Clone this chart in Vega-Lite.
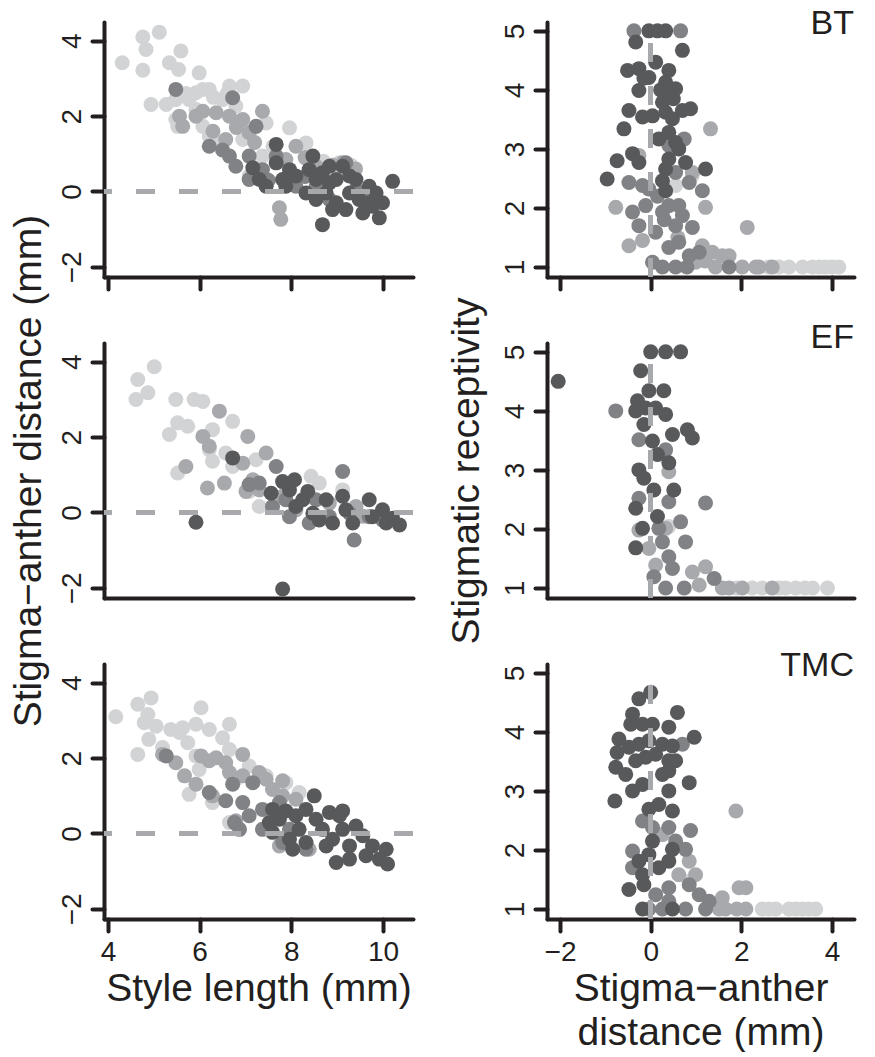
{
"$schema": "https://vega.github.io/schema/vega-lite/v6.json",
"background": "white",
"padding": {"left": 8, "top": 7, "right": 5, "bottom": 0},
"config": {
 "view": {"stroke": null},
 "font": "Liberation Sans",
 "axis": {"domainColor": "#231f20", "domainWidth": 4, "domainCap": "round", "tickColor": "#231f20", "tickWidth": 4, "tickCap": "round", "tickSize": 12, "labelFont": "Liberation Sans", "labelFontSize": 28, "labelColor": "#231f20", "labelPadding": 7, "titleFont": "Liberation Sans", "titleFontSize": 39, "titleFontWeight": "normal", "titleColor": "#231f20", "grid": false, "labelFlush": false, "labelOverlap": false, "titlePadding": 3, "format": "d"},
 "axisY": {"labelPadding": 12, "labelAngle": 270, "labelAlign": "center", "labelBaseline": "alphabetic", "titlePadding": 10},
 "title": {"font": "Liberation Sans", "fontSize": 34, "fontWeight": "normal", "color": "#231f20", "anchor": "end", "frame": "group", "offset": -21, "baseline": "alphabetic"}
},
"datasets": {
"left": [
{"site":"BT","stage":1,"style":4.31,"sad":3.42},{"site":"BT","stage":1,"style":4.76,"sad":4.1},{"site":"BT","stage":1,"style":5.12,"sad":4.23},{"site":"BT","stage":1,"style":4.83,"sad":3.77},{"site":"BT","stage":1,"style":4.76,"sad":3.22},{"site":"BT","stage":1,"style":5.59,"sad":3.73},{"site":"BT","stage":1,"style":5.34,"sad":3.42},{"site":"BT","stage":1,"style":5.54,"sad":3.24},{"site":"BT","stage":1,"style":4.94,"sad":2.31},{"site":"BT","stage":1,"style":5.27,"sad":2.31},{"site":"BT","stage":1,"style":5.48,"sad":2.44},{"site":"BT","stage":1,"style":5.99,"sad":3.15},{"site":"BT","stage":1,"style":6.07,"sad":2.71},{"site":"BT","stage":1,"style":6.21,"sad":2.71},{"site":"BT","stage":1,"style":5.92,"sad":2.62},{"site":"BT","stage":1,"style":6.65,"sad":2.8},{"site":"BT","stage":1,"style":6.94,"sad":2.8},{"site":"BT","stage":1,"style":6.5,"sad":2.44},{"site":"BT","stage":1,"style":6.79,"sad":2.27},{"site":"BT","stage":1,"style":5.48,"sad":1.91},{"site":"BT","stage":1,"style":5.52,"sad":1.73},{"site":"BT","stage":1,"style":5.92,"sad":2.18},{"site":"BT","stage":1,"style":6.07,"sad":1.73},{"site":"BT","stage":1,"style":6.21,"sad":1.47},{"site":"BT","stage":1,"style":6.94,"sad":1.38},{"site":"BT","stage":1,"style":7.96,"sad":1.69},{"site":"BT","stage":1,"style":8.32,"sad":1.29},{"site":"BT","stage":1,"style":7.08,"sad":0.41},{"site":"BT","stage":1,"style":7.37,"sad":0.94},{"site":"BT","stage":1,"style":7.45,"sad":1.82},{"site":"BT","stage":1,"style":9.05,"sad":0.76},{"site":"BT","stage":1,"style":5.77,"sad":2.44},{"site":"BT","stage":1,"style":5.7,"sad":2.6},{"site":"BT","stage":1,"style":6.3,"sad":2.5},{"site":"BT","stage":1,"style":6.6,"sad":2.6},{"site":"BT","stage":1,"style":7.1,"sad":1.6},{"site":"BT","stage":1,"style":6.4,"sad":1.3},{"site":"BT","stage":1,"style":7.6,"sad":1.2},{"site":"BT","stage":1,"style":8.7,"sad":0.8},{"site":"BT","stage":1,"style":9.3,"sad":0.7},
{"site":"BT","stage":2,"style":5.56,"sad":2.0},{"site":"BT","stage":2,"style":5.63,"sad":1.73},{"site":"BT","stage":2,"style":5.92,"sad":2.0},{"site":"BT","stage":2,"style":6.07,"sad":2.13},{"site":"BT","stage":2,"style":6.36,"sad":2.09},{"site":"BT","stage":2,"style":6.65,"sad":2.0},{"site":"BT","stage":2,"style":6.94,"sad":1.91},{"site":"BT","stage":2,"style":7.37,"sad":2.13},{"site":"BT","stage":2,"style":6.29,"sad":1.6},{"site":"BT","stage":2,"style":6.57,"sad":1.38},{"site":"BT","stage":2,"style":7.08,"sad":1.56},{"site":"BT","stage":2,"style":7.74,"sad":-0.43},{"site":"BT","stage":2,"style":7.77,"sad":-0.74},{"site":"BT","stage":2,"style":7.88,"sad":0.85},{"site":"BT","stage":2,"style":8.1,"sad":1.2},{"site":"BT","stage":2,"style":8.54,"sad":0.67},{"site":"BT","stage":2,"style":9.12,"sad":0.76},{"site":"BT","stage":2,"style":6.8,"sad":1.7},{"site":"BT","stage":2,"style":7.2,"sad":1.3},{"site":"BT","stage":2,"style":8.3,"sad":0.9},{"site":"BT","stage":2,"style":9.4,"sad":0.6},{"site":"BT","stage":2,"style":8.9,"sad":0.7},
{"site":"BT","stage":3,"style":5.48,"sad":2.71},{"site":"BT","stage":3,"style":6.72,"sad":2.49},{"site":"BT","stage":3,"style":7.23,"sad":1.73},{"site":"BT","stage":3,"style":6.21,"sad":1.2},{"site":"BT","stage":3,"style":6.65,"sad":0.94},{"site":"BT","stage":3,"style":6.79,"sad":0.67},{"site":"BT","stage":3,"style":7.08,"sad":0.94},{"site":"BT","stage":3,"style":7.23,"sad":0.5},{"site":"BT","stage":3,"style":7.67,"sad":0.94},{"site":"BT","stage":3,"style":7.08,"sad":0.32},{"site":"BT","stage":3,"style":7.37,"sad":0.58},{"site":"BT","stage":3,"style":8.1,"sad":0.14},{"site":"BT","stage":3,"style":8.54,"sad":0.14},{"site":"BT","stage":3,"style":8.83,"sad":-0.21},{"site":"BT","stage":3,"style":9.19,"sad":0.76},{"site":"BT","stage":3,"style":9.41,"sad":0.05},{"site":"BT","stage":3,"style":6.5,"sad":1.1},{"site":"BT","stage":3,"style":7.5,"sad":0.3},{"site":"BT","stage":3,"style":8.3,"sad":0.4},{"site":"BT","stage":3,"style":9.6,"sad":-0.2},
{"site":"BT","stage":4,"style":7.67,"sad":1.25},{"site":"BT","stage":4,"style":7.16,"sad":0.63},{"site":"BT","stage":4,"style":7.3,"sad":0.32},{"site":"BT","stage":4,"style":7.67,"sad":0.76},{"site":"BT","stage":4,"style":7.45,"sad":0.14},{"site":"BT","stage":4,"style":7.81,"sad":0.32},{"site":"BT","stage":4,"style":7.96,"sad":0.58},{"site":"BT","stage":4,"style":7.88,"sad":0.14},{"site":"BT","stage":4,"style":8.1,"sad":0.41},{"site":"BT","stage":4,"style":8.47,"sad":0.94},{"site":"BT","stage":4,"style":8.39,"sad":0.58},{"site":"BT","stage":4,"style":8.54,"sad":0.32},{"site":"BT","stage":4,"style":8.68,"sad":0.5},{"site":"BT","stage":4,"style":8.83,"sad":0.67},{"site":"BT","stage":4,"style":8.98,"sad":0.32},{"site":"BT","stage":4,"style":9.12,"sad":0.67},{"site":"BT","stage":4,"style":9.27,"sad":0.41},{"site":"BT","stage":4,"style":8.32,"sad":-0.04},{"site":"BT","stage":4,"style":8.54,"sad":-0.21},{"site":"BT","stage":4,"style":8.76,"sad":-0.04},{"site":"BT","stage":4,"style":8.98,"sad":-0.3},{"site":"BT","stage":4,"style":9.19,"sad":-0.48},{"site":"BT","stage":4,"style":9.41,"sad":0.32},{"site":"BT","stage":4,"style":9.48,"sad":-0.21},{"site":"BT","stage":4,"style":9.56,"sad":-0.57},{"site":"BT","stage":4,"style":9.7,"sad":-0.3},{"site":"BT","stage":4,"style":9.92,"sad":-0.7},{"site":"BT","stage":4,"style":9.99,"sad":-0.3},{"site":"BT","stage":4,"style":9.85,"sad":-0.04},{"site":"BT","stage":4,"style":10.21,"sad":0.27},{"site":"BT","stage":4,"style":8.68,"sad":-0.88},{"site":"BT","stage":4,"style":9.77,"sad":-0.39},{"site":"BT","stage":4,"style":9.27,"sad":-0.04},{"site":"BT","stage":4,"style":8.83,"sad":0.23},{"site":"BT","stage":4,"style":9.7,"sad":0.14},{"site":"BT","stage":4,"style":8.9,"sad":-0.48},
{"site":"EF","stage":1,"style":4.61,"sad":3.0},{"site":"EF","stage":1,"style":4.65,"sad":3.53},{"site":"EF","stage":1,"style":4.87,"sad":3.18},{"site":"EF","stage":1,"style":5.01,"sad":3.87},{"site":"EF","stage":1,"style":5.48,"sad":3.0},{"site":"EF","stage":1,"style":5.88,"sad":3.0},{"site":"EF","stage":1,"style":6.07,"sad":2.95},{"site":"EF","stage":1,"style":5.34,"sad":2.07},{"site":"EF","stage":1,"style":5.52,"sad":2.38},{"site":"EF","stage":1,"style":5.74,"sad":2.29},{"site":"EF","stage":1,"style":5.52,"sad":1.05},{"site":"EF","stage":1,"style":6.72,"sad":2.42},{"site":"EF","stage":1,"style":6.28,"sad":2.2},{"site":"EF","stage":1,"style":6.21,"sad":1.67},{"site":"EF","stage":1,"style":6.28,"sad":1.36},{"site":"EF","stage":1,"style":6.57,"sad":1.58},{"site":"EF","stage":1,"style":6.72,"sad":1.22},{"site":"EF","stage":1,"style":7.23,"sad":1.4},{"site":"EF","stage":1,"style":7.3,"sad":0.16},{"site":"EF","stage":1,"style":7.08,"sad":0.56},{"site":"EF","stage":1,"style":8.61,"sad":0.78},{"site":"EF","stage":1,"style":8.43,"sad":0.96},{"site":"EF","stage":1,"style":9.12,"sad":0.6},
{"site":"EF","stage":2,"style":6.43,"sad":2.69},{"site":"EF","stage":2,"style":7.05,"sad":2.02},{"site":"EF","stage":2,"style":6.07,"sad":2.02},{"site":"EF","stage":2,"style":6.21,"sad":1.76},{"site":"EF","stage":2,"style":5.7,"sad":1.22},{"site":"EF","stage":2,"style":6.17,"sad":0.65},{"site":"EF","stage":2,"style":6.54,"sad":0.78},{"site":"EF","stage":2,"style":7.45,"sad":1.58},{"site":"EF","stage":2,"style":6.94,"sad":1.31},{"site":"EF","stage":2,"style":7.16,"sad":0.87},{"site":"EF","stage":2,"style":7.3,"sad":0.6},{"site":"EF","stage":2,"style":7.01,"sad":0.56},{"site":"EF","stage":2,"style":7.81,"sad":0.43},{"site":"EF","stage":2,"style":8.1,"sad":0.07},{"site":"EF","stage":2,"style":8.83,"sad":0.25},{"site":"EF","stage":2,"style":9.41,"sad":0.16},{"site":"EF","stage":2,"style":9.56,"sad":-0.1},
{"site":"EF","stage":3,"style":7.08,"sad":0.74},{"site":"EF","stage":3,"style":7.3,"sad":0.78},{"site":"EF","stage":3,"style":7.67,"sad":1.22},{"site":"EF","stage":3,"style":7.88,"sad":0.34},{"site":"EF","stage":3,"style":7.96,"sad":-0.11},{"site":"EF","stage":3,"style":8.39,"sad":-0.28},{"site":"EF","stage":3,"style":8.54,"sad":0.34},{"site":"EF","stage":3,"style":9.12,"sad":1.09},{"site":"EF","stage":3,"style":8.83,"sad":-0.11},{"site":"EF","stage":3,"style":9.27,"sad":-0.02},{"site":"EF","stage":3,"style":9.7,"sad":-0.11},{"site":"EF","stage":3,"style":9.99,"sad":-0.2},{"site":"EF","stage":3,"style":7.59,"sad":0.16},{"site":"EF","stage":3,"style":9.37,"sad":-0.73},
{"site":"EF","stage":4,"style":5.92,"sad":-0.26},{"site":"EF","stage":4,"style":7.81,"sad":-2.03},{"site":"EF","stage":4,"style":6.72,"sad":1.45},{"site":"EF","stage":4,"style":7.56,"sad":0.51},{"site":"EF","stage":4,"style":7.81,"sad":0.82},{"site":"EF","stage":4,"style":8.07,"sad":0.87},{"site":"EF","stage":4,"style":7.96,"sad":0.6},{"site":"EF","stage":4,"style":8.25,"sad":0.34},{"site":"EF","stage":4,"style":8.36,"sad":0.56},{"site":"EF","stage":4,"style":8.1,"sad":0.16},{"site":"EF","stage":4,"style":8.47,"sad":-0.02},{"site":"EF","stage":4,"style":8.76,"sad":0.34},{"site":"EF","stage":4,"style":8.61,"sad":-0.2},{"site":"EF","stage":4,"style":8.9,"sad":-0.28},{"site":"EF","stage":4,"style":9.12,"sad":0.43},{"site":"EF","stage":4,"style":9.19,"sad":0.07},{"site":"EF","stage":4,"style":9.34,"sad":-0.28},{"site":"EF","stage":4,"style":9.7,"sad":0.34},{"site":"EF","stage":4,"style":9.77,"sad":-0.11},{"site":"EF","stage":4,"style":9.99,"sad":0.07},{"site":"EF","stage":4,"style":10.21,"sad":-0.15},{"site":"EF","stage":4,"style":10.36,"sad":-0.33},{"site":"EF","stage":4,"style":10.07,"sad":-0.28},
{"site":"TMC","stage":1,"style":4.17,"sad":3.1},{"site":"TMC","stage":1,"style":4.65,"sad":3.43},{"site":"TMC","stage":1,"style":4.94,"sad":3.6},{"site":"TMC","stage":1,"style":4.87,"sad":3.16},{"site":"TMC","stage":1,"style":5.05,"sad":2.85},{"site":"TMC","stage":1,"style":4.79,"sad":2.94},{"site":"TMC","stage":1,"style":4.65,"sad":2.1},{"site":"TMC","stage":1,"style":4.89,"sad":2.5},{"site":"TMC","stage":1,"style":5.19,"sad":2.28},{"site":"TMC","stage":1,"style":5.37,"sad":2.76},{"site":"TMC","stage":1,"style":5.63,"sad":2.81},{"site":"TMC","stage":1,"style":5.92,"sad":2.9},{"site":"TMC","stage":1,"style":6.03,"sad":3.34},{"site":"TMC","stage":1,"style":6.21,"sad":2.76},{"site":"TMC","stage":1,"style":6.5,"sad":2.54},{"site":"TMC","stage":1,"style":6.65,"sad":2.9},{"site":"TMC","stage":1,"style":5.74,"sad":2.41},{"site":"TMC","stage":1,"style":5.92,"sad":2.06},{"site":"TMC","stage":1,"style":5.77,"sad":1.04},{"site":"TMC","stage":1,"style":5.99,"sad":1.7},{"site":"TMC","stage":1,"style":6.28,"sad":0.82},{"site":"TMC","stage":1,"style":6.65,"sad":2.23},{"site":"TMC","stage":1,"style":7.08,"sad":1.79},{"site":"TMC","stage":1,"style":6.79,"sad":1.44},{"site":"TMC","stage":1,"style":7.45,"sad":1.53},{"site":"TMC","stage":1,"style":7.88,"sad":1.35},{"site":"TMC","stage":1,"style":8.17,"sad":1.09},{"site":"TMC","stage":1,"style":6.65,"sad":0.29},{"site":"TMC","stage":1,"style":5.56,"sad":2.68},
{"site":"TMC","stage":2,"style":5.19,"sad":2.1},{"site":"TMC","stage":2,"style":5.48,"sad":1.88},{"site":"TMC","stage":2,"style":5.67,"sad":1.53},{"site":"TMC","stage":2,"style":5.92,"sad":1.31},{"site":"TMC","stage":2,"style":6.03,"sad":2.06},{"site":"TMC","stage":2,"style":6.21,"sad":1.93},{"site":"TMC","stage":2,"style":6.36,"sad":2.01},{"site":"TMC","stage":2,"style":6.57,"sad":1.88},{"site":"TMC","stage":2,"style":6.94,"sad":2.1},{"site":"TMC","stage":2,"style":6.65,"sad":1.62},{"site":"TMC","stage":2,"style":6.94,"sad":1.53},{"site":"TMC","stage":2,"style":7.3,"sad":1.62},{"site":"TMC","stage":2,"style":7.45,"sad":1.44},{"site":"TMC","stage":2,"style":7.59,"sad":1.17},{"site":"TMC","stage":2,"style":7.81,"sad":1.4},{"site":"TMC","stage":2,"style":6.79,"sad":0.34},{"site":"TMC","stage":2,"style":6.28,"sad":1.0},{"site":"TMC","stage":2,"style":7.81,"sad":1.0},{"site":"TMC","stage":2,"style":8.1,"sad":0.91},{"site":"TMC","stage":2,"style":7.74,"sad":-0.33},{"site":"TMC","stage":2,"style":8.39,"sad":-0.42},
{"site":"TMC","stage":3,"style":5.27,"sad":2.06},{"site":"TMC","stage":3,"style":6.21,"sad":1.09},{"site":"TMC","stage":3,"style":6.72,"sad":1.31},{"site":"TMC","stage":3,"style":6.57,"sad":0.87},{"site":"TMC","stage":3,"style":6.94,"sad":0.82},{"site":"TMC","stage":3,"style":7.16,"sad":1.35},{"site":"TMC","stage":3,"style":6.76,"sad":0.29},{"site":"TMC","stage":3,"style":6.87,"sad":0.11},{"site":"TMC","stage":3,"style":7.08,"sad":0.47},{"site":"TMC","stage":3,"style":7.37,"sad":0.11},{"site":"TMC","stage":3,"style":7.37,"sad":0.64},{"site":"TMC","stage":3,"style":7.74,"sad":0.82},{"site":"TMC","stage":3,"style":7.81,"sad":-0.24},{"site":"TMC","stage":3,"style":8.32,"sad":-0.42},{"site":"TMC","stage":3,"style":7.96,"sad":0.11},
{"site":"TMC","stage":4,"style":7.59,"sad":0.64},{"site":"TMC","stage":4,"style":7.52,"sad":0.29},{"site":"TMC","stage":4,"style":7.59,"sad":0.03},{"site":"TMC","stage":4,"style":7.74,"sad":0.38},{"site":"TMC","stage":4,"style":7.88,"sad":0.6},{"site":"TMC","stage":4,"style":7.96,"sad":-0.15},{"site":"TMC","stage":4,"style":8.1,"sad":0.47},{"site":"TMC","stage":4,"style":8.17,"sad":0.11},{"site":"TMC","stage":4,"style":8.32,"sad":0.64},{"site":"TMC","stage":4,"style":8.5,"sad":1.0},{"site":"TMC","stage":4,"style":8.54,"sad":0.38},{"site":"TMC","stage":4,"style":8.68,"sad":0.11},{"site":"TMC","stage":4,"style":8.83,"sad":0.56},{"site":"TMC","stage":4,"style":8.9,"sad":-0.15},{"site":"TMC","stage":4,"style":9.05,"sad":0.47},{"site":"TMC","stage":4,"style":9.12,"sad":0.11},{"site":"TMC","stage":4,"style":9.27,"sad":-0.33},{"site":"TMC","stage":4,"style":8.98,"sad":-0.77},{"site":"TMC","stage":4,"style":9.41,"sad":0.2},{"site":"TMC","stage":4,"style":9.56,"sad":-0.06},{"site":"TMC","stage":4,"style":9.63,"sad":-0.59},{"site":"TMC","stage":4,"style":9.77,"sad":-0.33},{"site":"TMC","stage":4,"style":9.92,"sad":-0.68},{"site":"TMC","stage":4,"style":10.07,"sad":-0.42},{"site":"TMC","stage":4,"style":10.1,"sad":-0.81},{"site":"TMC","stage":4,"style":9.27,"sad":-0.68},{"site":"TMC","stage":4,"style":8.76,"sad":-0.33},{"site":"TMC","stage":4,"style":8.32,"sad":-0.24},{"site":"TMC","stage":4,"style":8.03,"sad":-0.42},{"site":"TMC","stage":4,"style":9.12,"sad":0.6}
],
"right": [
{"site":"BT","stage":1,"sad":3.05,"rec":1.0},{"site":"BT","stage":1,"sad":3.35,"rec":1.0},{"site":"BT","stage":1,"sad":3.71,"rec":1.0},{"site":"BT","stage":1,"sad":4.15,"rec":1.0},{"site":"BT","stage":1,"sad":2.83,"rec":1.0},{"site":"BT","stage":1,"sad":3.57,"rec":1.0},{"site":"BT","stage":1,"sad":4.0,"rec":1.0},{"site":"BT","stage":1,"sad":0.92,"rec":2.55},{"site":"BT","stage":1,"sad":0.55,"rec":2.38},{"site":"BT","stage":1,"sad":2.6,"rec":1.0},{"site":"BT","stage":1,"sad":3.85,"rec":1.0},
{"site":"BT","stage":2,"sad":-0.77,"rec":2.01},{"site":"BT","stage":2,"sad":1.32,"rec":3.34},{"site":"BT","stage":2,"sad":1.21,"rec":2.01},{"site":"BT","stage":2,"sad":-0.48,"rec":1.36},{"site":"BT","stage":2,"sad":-0.18,"rec":1.45},{"site":"BT","stage":2,"sad":0.92,"rec":2.6},{"site":"BT","stage":2,"sad":1.14,"rec":1.36},{"site":"BT","stage":2,"sad":1.36,"rec":1.25},{"site":"BT","stage":2,"sad":1.58,"rec":1.19},{"site":"BT","stage":2,"sad":1.73,"rec":1.19},{"site":"BT","stage":2,"sad":1.43,"rec":1.0},{"site":"BT","stage":2,"sad":2.02,"rec":1.0},{"site":"BT","stage":2,"sad":2.39,"rec":1.0},{"site":"BT","stage":2,"sad":2.68,"rec":1.0},{"site":"BT","stage":2,"sad":2.13,"rec":1.67},{"site":"BT","stage":2,"sad":0.99,"rec":1.08},{"site":"BT","stage":2,"sad":-0.26,"rec":2.89},{"site":"BT","stage":2,"sad":2.32,"rec":1.0},{"site":"BT","stage":2,"sad":1.2,"rec":1.1},{"site":"BT","stage":2,"sad":0.6,"rec":1.5},
{"site":"BT","stage":3,"sad":0.66,"rec":5.0},{"site":"BT","stage":3,"sad":-0.37,"rec":5.0},{"site":"BT","stage":3,"sad":0.74,"rec":3.17},{"site":"BT","stage":3,"sad":0.4,"rec":3.06},{"site":"BT","stage":3,"sad":-0.48,"rec":2.43},{"site":"BT","stage":3,"sad":-0.18,"rec":2.38},{"site":"BT","stage":3,"sad":-0.04,"rec":2.32},{"site":"BT","stage":3,"sad":0.55,"rec":2.6},{"site":"BT","stage":3,"sad":0.85,"rec":2.43},{"site":"BT","stage":3,"sad":1.14,"rec":2.29},{"site":"BT","stage":3,"sad":-0.4,"rec":1.93},{"site":"BT","stage":3,"sad":-0.11,"rec":2.04},{"site":"BT","stage":3,"sad":-0.26,"rec":1.7},{"site":"BT","stage":3,"sad":0.11,"rec":1.59},{"site":"BT","stage":3,"sad":0.26,"rec":1.93},{"site":"BT","stage":3,"sad":0.4,"rec":2.04},{"site":"BT","stage":3,"sad":0.62,"rec":2.04},{"site":"BT","stage":3,"sad":0.7,"rec":1.87},{"site":"BT","stage":3,"sad":0.55,"rec":1.7},{"site":"BT","stage":3,"sad":0.92,"rec":1.67},{"site":"BT","stage":3,"sad":0.4,"rec":1.33},{"site":"BT","stage":3,"sad":0.62,"rec":1.42},{"site":"BT","stage":3,"sad":0.85,"rec":1.19},{"site":"BT","stage":3,"sad":1.07,"rec":1.25},{"site":"BT","stage":3,"sad":0.04,"rec":1.08},{"site":"BT","stage":3,"sad":0.26,"rec":1.0},{"site":"BT","stage":3,"sad":0.55,"rec":1.0},{"site":"BT","stage":3,"sad":1.73,"rec":1.0},{"site":"BT","stage":3,"sad":0.3,"rec":1.8},{"site":"BT","stage":3,"sad":0.15,"rec":2.2},{"site":"BT","stage":3,"sad":0.8,"rec":1.0},
{"site":"BT","stage":4,"sad":-0.04,"rec":5.0},{"site":"BT","stage":4,"sad":0.15,"rec":5.0},{"site":"BT","stage":4,"sad":0.33,"rec":5.0},{"site":"BT","stage":4,"sad":-0.33,"rec":4.81},{"site":"BT","stage":4,"sad":0.7,"rec":4.67},{"site":"BT","stage":4,"sad":-0.51,"rec":4.33},{"site":"BT","stage":4,"sad":-0.26,"rec":4.36},{"site":"BT","stage":4,"sad":-0.04,"rec":4.21},{"site":"BT","stage":4,"sad":0.11,"rec":4.47},{"site":"BT","stage":4,"sad":0.4,"rec":4.33},{"site":"BT","stage":4,"sad":0.33,"rec":4.13},{"site":"BT","stage":4,"sad":-0.26,"rec":3.99},{"site":"BT","stage":4,"sad":0.4,"rec":3.99},{"site":"BT","stage":4,"sad":0.55,"rec":4.02},{"site":"BT","stage":4,"sad":-0.48,"rec":3.65},{"site":"BT","stage":4,"sad":-0.18,"rec":3.54},{"site":"BT","stage":4,"sad":0.04,"rec":3.56},{"site":"BT","stage":4,"sad":0.33,"rec":3.62},{"site":"BT","stage":4,"sad":0.48,"rec":3.51},{"site":"BT","stage":4,"sad":0.7,"rec":3.65},{"site":"BT","stage":4,"sad":0.88,"rec":3.68},{"site":"BT","stage":4,"sad":0.26,"rec":3.79},{"site":"BT","stage":4,"sad":-0.59,"rec":3.34},{"site":"BT","stage":4,"sad":0.4,"rec":3.28},{"site":"BT","stage":4,"sad":0.55,"rec":3.11},{"site":"BT","stage":4,"sad":0.62,"rec":3.0},{"site":"BT","stage":4,"sad":-0.96,"rec":2.49},{"site":"BT","stage":4,"sad":-0.74,"rec":2.8},{"site":"BT","stage":4,"sad":-0.4,"rec":2.92},{"site":"BT","stage":4,"sad":-0.26,"rec":2.77},{"site":"BT","stage":4,"sad":0.4,"rec":2.83},{"site":"BT","stage":4,"sad":0.33,"rec":2.66},{"site":"BT","stage":4,"sad":0.26,"rec":2.46},{"site":"BT","stage":4,"sad":0.33,"rec":2.29},{"site":"BT","stage":4,"sad":0.77,"rec":2.77},{"site":"BT","stage":4,"sad":1.21,"rec":2.66},{"site":"BT","stage":4,"sad":0.18,"rec":3.17},{"site":"BT","stage":4,"sad":0.22,"rec":4.0},{"site":"BT","stage":4,"sad":-0.15,"rec":4.2},{"site":"BT","stage":4,"sad":0.5,"rec":3.85},
{"site":"EF","stage":1,"sad":2.24,"rec":1.0},{"site":"EF","stage":1,"sad":2.46,"rec":1.0},{"site":"EF","stage":1,"sad":2.98,"rec":1.0},{"site":"EF","stage":1,"sad":3.2,"rec":1.0},{"site":"EF","stage":1,"sad":3.57,"rec":1.0},{"site":"EF","stage":1,"sad":3.9,"rec":1.0},{"site":"EF","stage":1,"sad":2.83,"rec":1.0},{"site":"EF","stage":1,"sad":0.4,"rec":2.04},{"site":"EF","stage":1,"sad":1.9,"rec":1.0},{"site":"EF","stage":1,"sad":3.4,"rec":1.0},
{"site":"EF","stage":2,"sad":0.4,"rec":2.97},{"site":"EF","stage":2,"sad":-0.26,"rec":1.98},{"site":"EF","stage":2,"sad":0.33,"rec":2.01},{"site":"EF","stage":2,"sad":0.11,"rec":1.39},{"site":"EF","stage":2,"sad":0.92,"rec":1.27},{"site":"EF","stage":2,"sad":1.21,"rec":1.36},{"site":"EF","stage":2,"sad":1.07,"rec":1.05},{"site":"EF","stage":2,"sad":1.58,"rec":1.0},{"site":"EF","stage":2,"sad":2.02,"rec":1.0},{"site":"EF","stage":2,"sad":2.68,"rec":1.0},{"site":"EF","stage":2,"sad":1.73,"rec":1.0},{"site":"EF","stage":2,"sad":-0.04,"rec":1.67},
{"site":"EF","stage":3,"sad":-0.77,"rec":4.0},{"site":"EF","stage":3,"sad":-0.26,"rec":3.51},{"site":"EF","stage":3,"sad":0.33,"rec":3.34},{"site":"EF","stage":3,"sad":1.21,"rec":2.44},{"site":"EF","stage":3,"sad":0.66,"rec":2.12},{"site":"EF","stage":3,"sad":0.77,"rec":1.78},{"site":"EF","stage":3,"sad":0.4,"rec":2.46},{"site":"EF","stage":3,"sad":-0.26,"rec":2.52},{"site":"EF","stage":3,"sad":0.26,"rec":1.78},{"site":"EF","stage":3,"sad":0.4,"rec":1.53},{"site":"EF","stage":3,"sad":0.48,"rec":1.33},{"site":"EF","stage":3,"sad":0.07,"rec":1.19},{"site":"EF","stage":3,"sad":0.33,"rec":1.0},{"site":"EF","stage":3,"sad":0.74,"rec":1.0},{"site":"EF","stage":3,"sad":1.4,"rec":1.16},{"site":"EF","stage":3,"sad":0.18,"rec":2.01},
{"site":"EF","stage":4,"sad":-2.04,"rec":4.5},{"site":"EF","stage":4,"sad":0.0,"rec":5.0},{"site":"EF","stage":4,"sad":0.33,"rec":5.0},{"site":"EF","stage":4,"sad":0.66,"rec":5.0},{"site":"EF","stage":4,"sad":-0.22,"rec":4.68},{"site":"EF","stage":4,"sad":-0.04,"rec":4.34},{"site":"EF","stage":4,"sad":0.29,"rec":4.34},{"site":"EF","stage":4,"sad":-0.29,"rec":4.17},{"site":"EF","stage":4,"sad":-0.11,"rec":4.05},{"site":"EF","stage":4,"sad":-0.33,"rec":4.0},{"site":"EF","stage":4,"sad":0.11,"rec":4.05},{"site":"EF","stage":4,"sad":0.33,"rec":3.94},{"site":"EF","stage":4,"sad":-0.15,"rec":3.77},{"site":"EF","stage":4,"sad":0.48,"rec":3.6},{"site":"EF","stage":4,"sad":0.81,"rec":3.68},{"site":"EF","stage":4,"sad":0.92,"rec":3.54},{"site":"EF","stage":4,"sad":0.04,"rec":3.49},{"site":"EF","stage":4,"sad":0.15,"rec":3.26},{"site":"EF","stage":4,"sad":0.4,"rec":3.12},{"site":"EF","stage":4,"sad":-0.26,"rec":3.0},{"site":"EF","stage":4,"sad":-0.15,"rec":2.86},{"site":"EF","stage":4,"sad":0.07,"rec":2.66},{"site":"EF","stage":4,"sad":0.51,"rec":2.66},{"site":"EF","stage":4,"sad":-0.33,"rec":2.35},{"site":"EF","stage":4,"sad":0.15,"rec":2.21},{"site":"EF","stage":4,"sad":-0.18,"rec":2.01},{"site":"EF","stage":4,"sad":-0.33,"rec":1.68},
{"site":"TMC","stage":1,"sad":2.46,"rec":1.0},{"site":"TMC","stage":1,"sad":2.76,"rec":1.0},{"site":"TMC","stage":1,"sad":3.05,"rec":1.0},{"site":"TMC","stage":1,"sad":3.35,"rec":1.0},{"site":"TMC","stage":1,"sad":3.64,"rec":1.0},{"site":"TMC","stage":1,"sad":2.61,"rec":1.0},{"site":"TMC","stage":1,"sad":3.2,"rec":1.0},{"site":"TMC","stage":1,"sad":3.49,"rec":1.0},{"site":"TMC","stage":1,"sad":0.85,"rec":1.47},
{"site":"TMC","stage":2,"sad":1.88,"rec":2.66},{"site":"TMC","stage":2,"sad":0.85,"rec":1.81},{"site":"TMC","stage":2,"sad":0.99,"rec":1.58},{"site":"TMC","stage":2,"sad":1.58,"rec":1.19},{"site":"TMC","stage":2,"sad":1.95,"rec":1.36},{"site":"TMC","stage":2,"sad":2.1,"rec":1.36},{"site":"TMC","stage":2,"sad":1.65,"rec":1.0},{"site":"TMC","stage":2,"sad":2.1,"rec":1.0},{"site":"TMC","stage":2,"sad":1.51,"rec":1.0},{"site":"TMC","stage":2,"sad":0.62,"rec":1.58},{"site":"TMC","stage":2,"sad":0.26,"rec":2.26},{"site":"TMC","stage":2,"sad":1.9,"rec":1.0},
{"site":"TMC","stage":3,"sad":0.7,"rec":3.79},{"site":"TMC","stage":3,"sad":-0.18,"rec":2.49},{"site":"TMC","stage":3,"sad":0.4,"rec":2.38},{"site":"TMC","stage":3,"sad":0.88,"rec":2.33},{"site":"TMC","stage":3,"sad":-0.4,"rec":1.98},{"site":"TMC","stage":3,"sad":-0.4,"rec":1.7},{"site":"TMC","stage":3,"sad":0.04,"rec":2.38},{"site":"TMC","stage":3,"sad":0.55,"rec":2.15},{"site":"TMC","stage":3,"sad":0.77,"rec":2.01},{"site":"TMC","stage":3,"sad":0.85,"rec":1.41},{"site":"TMC","stage":3,"sad":0.4,"rec":1.36},{"site":"TMC","stage":3,"sad":0.11,"rec":1.24},{"site":"TMC","stage":3,"sad":1.07,"rec":1.24},{"site":"TMC","stage":3,"sad":1.29,"rec":1.13},{"site":"TMC","stage":3,"sad":0.77,"rec":1.0},{"site":"TMC","stage":3,"sad":-0.04,"rec":1.0},{"site":"TMC","stage":3,"sad":0.26,"rec":1.0},{"site":"TMC","stage":3,"sad":1.21,"rec":1.0},{"site":"TMC","stage":3,"sad":0.4,"rec":1.13},
{"site":"TMC","stage":4,"sad":0.0,"rec":4.67},{"site":"TMC","stage":4,"sad":-0.26,"rec":4.56},{"site":"TMC","stage":4,"sad":-0.4,"rec":4.3},{"site":"TMC","stage":4,"sad":-0.44,"rec":4.13},{"site":"TMC","stage":4,"sad":-0.18,"rec":4.13},{"site":"TMC","stage":4,"sad":0.04,"rec":4.13},{"site":"TMC","stage":4,"sad":0.4,"rec":4.08},{"site":"TMC","stage":4,"sad":0.59,"rec":4.33},{"site":"TMC","stage":4,"sad":0.96,"rec":3.91},{"site":"TMC","stage":4,"sad":-0.7,"rec":3.88},{"site":"TMC","stage":4,"sad":-0.74,"rec":3.65},{"site":"TMC","stage":4,"sad":-0.48,"rec":3.74},{"site":"TMC","stage":4,"sad":-0.26,"rec":3.79},{"site":"TMC","stage":4,"sad":-0.04,"rec":3.85},{"site":"TMC","stage":4,"sad":0.26,"rec":3.79},{"site":"TMC","stage":4,"sad":0.48,"rec":3.76},{"site":"TMC","stage":4,"sad":-0.77,"rec":3.4},{"site":"TMC","stage":4,"sad":-0.55,"rec":3.28},{"site":"TMC","stage":4,"sad":-0.33,"rec":3.51},{"site":"TMC","stage":4,"sad":-0.11,"rec":3.57},{"site":"TMC","stage":4,"sad":0.11,"rec":3.62},{"site":"TMC","stage":4,"sad":0.4,"rec":3.51},{"site":"TMC","stage":4,"sad":0.55,"rec":3.51},{"site":"TMC","stage":4,"sad":0.4,"rec":3.34},{"site":"TMC","stage":4,"sad":0.26,"rec":3.28},{"site":"TMC","stage":4,"sad":-0.4,"rec":3.0},{"site":"TMC","stage":4,"sad":-0.18,"rec":3.11},{"site":"TMC","stage":4,"sad":0.4,"rec":3.0},{"site":"TMC","stage":4,"sad":0.85,"rec":3.14},{"site":"TMC","stage":4,"sad":-0.79,"rec":2.83},{"site":"TMC","stage":4,"sad":-0.04,"rec":2.69},{"site":"TMC","stage":4,"sad":0.18,"rec":2.77},{"site":"TMC","stage":4,"sad":0.48,"rec":2.66},{"site":"TMC","stage":4,"sad":0.04,"rec":2.15},{"site":"TMC","stage":4,"sad":-0.04,"rec":1.92},{"site":"TMC","stage":4,"sad":-0.26,"rec":1.81},{"site":"TMC","stage":4,"sad":0.48,"rec":2.01},{"site":"TMC","stage":4,"sad":0.4,"rec":1.81},{"site":"TMC","stage":4,"sad":0.18,"rec":1.7},{"site":"TMC","stage":4,"sad":-0.18,"rec":1.58},{"site":"TMC","stage":4,"sad":-0.48,"rec":1.33},{"site":"TMC","stage":4,"sad":-0.15,"rec":1.41},{"site":"TMC","stage":4,"sad":-0.18,"rec":1.0},{"site":"TMC","stage":4,"sad":0.48,"rec":1.0}
]
},
"columns": 2,
"bounds": "flush",
"spacing": {"row": 66, "column": 134},
"concat": [
{"width": 309, "height": 255, "data": {"name": "left"}, "transform": [{"filter": "datum.site === 'BT'"}],
 "layer": [
  {"mark": {"type": "circle", "size": 225, "opacity": 1},
   "encoding": {
    "x": {"field": "style", "type": "quantitative", "scale": {"domain": [3.913, 10.655], "nice": false, "zero": false}, "axis": {"values": [4, 6, 8, 10], "labels": false, "title": null}},
    "y": {"field": "sad", "type": "quantitative", "scale": {"domain": [-2.27, 4.5], "nice": false, "zero": false}, "axis": {"values": [-2, 0, 2, 4], "title": null}},
    "color": {"field": "stage", "type": "ordinal", "scale": {"domain": [1, 2, 3, 4], "range": ["#d1d3d4", "#a7a9ac", "#808285", "#58595b"]}, "legend": null}}},
  {"mark": {"type": "rule", "strokeDash": [19, 24], "strokeWidth": 4, "color": "#a7a9ac"},
   "encoding": {"y": {"datum": 0, "type": "quantitative"}}}
 ]},
{"width": 307, "height": 255, "title": {"text": "BT"}, "data": {"name": "right"}, "transform": [{"filter": "datum.site === 'BT'"}],
 "layer": [
  {"mark": {"type": "circle", "size": 225, "opacity": 1},
   "encoding": {
    "x": {"field": "sad", "type": "quantitative", "scale": {"domain": [-2.287, 4.485], "nice": false, "zero": false}, "axis": {"values": [-2, 0, 2, 4], "labels": false, "title": null}},
    "y": {"field": "rec", "type": "quantitative", "scale": {"domain": [0.83, 5.15], "nice": false, "zero": false}, "axis": {"values": [1, 2, 3, 4, 5], "title": null}},
    "color": {"field": "stage", "type": "ordinal", "scale": {"domain": [1, 2, 3, 4], "range": ["#d1d3d4", "#a7a9ac", "#808285", "#58595b"]}, "legend": null}}},
  {"mark": {"type": "rule", "strokeDash": [19, 24], "strokeWidth": 4, "color": "#a7a9ac"},
   "encoding": {"x": {"datum": 0, "type": "quantitative"}, "y": {"datum": 0.83, "type": "quantitative"}, "y2": {"datum": 5.15}}}
 ]},
{"width": 309, "height": 255, "data": {"name": "left"}, "transform": [{"filter": "datum.site === 'EF'"}],
 "layer": [
  {"mark": {"type": "circle", "size": 225, "opacity": 1},
   "encoding": {
    "x": {"field": "style", "type": "quantitative", "scale": {"domain": [3.913, 10.655], "nice": false, "zero": false}, "axis": {"ticks": false, "labels": false, "title": null}},
    "y": {"field": "sad", "type": "quantitative", "scale": {"domain": [-2.27, 4.5], "nice": false, "zero": false}, "axis": {"values": [-2, 0, 2, 4], "title": "Stigma−anther distance (mm)"}},
    "color": {"field": "stage", "type": "ordinal", "scale": {"domain": [1, 2, 3, 4], "range": ["#d1d3d4", "#a7a9ac", "#808285", "#58595b"]}, "legend": null}}},
  {"mark": {"type": "rule", "strokeDash": [19, 24], "strokeWidth": 4, "color": "#a7a9ac"},
   "encoding": {"y": {"datum": 0, "type": "quantitative"}}}
 ]},
{"width": 307, "height": 255, "title": {"text": "EF", "offset": -58}, "data": {"name": "right"}, "transform": [{"filter": "datum.site === 'EF'"}],
 "layer": [
  {"mark": {"type": "circle", "size": 225, "opacity": 1},
   "encoding": {
    "x": {"field": "sad", "type": "quantitative", "scale": {"domain": [-2.287, 4.485], "nice": false, "zero": false}, "axis": {"ticks": false, "labels": false, "title": null}},
    "y": {"field": "rec", "type": "quantitative", "scale": {"domain": [0.83, 5.15], "nice": false, "zero": false}, "axis": {"values": [1, 2, 3, 4, 5], "title": "Stigmatic receptivity", "titlePadding": 15}},
    "color": {"field": "stage", "type": "ordinal", "scale": {"domain": [1, 2, 3, 4], "range": ["#d1d3d4", "#a7a9ac", "#808285", "#58595b"]}, "legend": null}}},
  {"mark": {"type": "rule", "strokeDash": [19, 24], "strokeWidth": 4, "color": "#a7a9ac"},
   "encoding": {"x": {"datum": 0, "type": "quantitative"}, "y": {"datum": 0.83, "type": "quantitative"}, "y2": {"datum": 5.15}}}
 ]},
{"width": 309, "height": 255, "data": {"name": "left"}, "transform": [{"filter": "datum.site === 'TMC'"}],
 "layer": [
  {"mark": {"type": "circle", "size": 225, "opacity": 1},
   "encoding": {
    "x": {"field": "style", "type": "quantitative", "scale": {"domain": [3.913, 10.655], "nice": false, "zero": false}, "axis": {"values": [4, 6, 8, 10], "title": "Style length (mm)"}},
    "y": {"field": "sad", "type": "quantitative", "scale": {"domain": [-2.27, 4.5], "nice": false, "zero": false}, "axis": {"values": [-2, 0, 2, 4], "title": null}},
    "color": {"field": "stage", "type": "ordinal", "scale": {"domain": [1, 2, 3, 4], "range": ["#d1d3d4", "#a7a9ac", "#808285", "#58595b"]}, "legend": null}}},
  {"mark": {"type": "rule", "strokeDash": [19, 24], "strokeWidth": 4, "color": "#a7a9ac"},
   "encoding": {"y": {"datum": 0, "type": "quantitative"}}}
 ]},
{"width": 307, "height": 255, "title": {"text": "TMC"}, "data": {"name": "right"}, "transform": [{"filter": "datum.site === 'TMC'"}],
 "layer": [
  {"mark": {"type": "circle", "size": 225, "opacity": 1},
   "encoding": {
    "x": {"field": "sad", "type": "quantitative", "scale": {"domain": [-2.287, 4.485], "nice": false, "zero": false}, "axis": {"values": [-2, 0, 2, 4], "title": ["Stigma−anther", "distance (mm)"], "titleLineHeight": 44}},
    "y": {"field": "rec", "type": "quantitative", "scale": {"domain": [0.83, 5.15], "nice": false, "zero": false}, "axis": {"values": [1, 2, 3, 4, 5], "title": null}},
    "color": {"field": "stage", "type": "ordinal", "scale": {"domain": [1, 2, 3, 4], "range": ["#d1d3d4", "#a7a9ac", "#808285", "#58595b"]}, "legend": null}}},
  {"mark": {"type": "rule", "strokeDash": [19, 24], "strokeWidth": 4, "color": "#a7a9ac"},
   "encoding": {"x": {"datum": 0, "type": "quantitative"}, "y": {"datum": 0.83, "type": "quantitative"}, "y2": {"datum": 5.15}}}
 ]}
]
}
